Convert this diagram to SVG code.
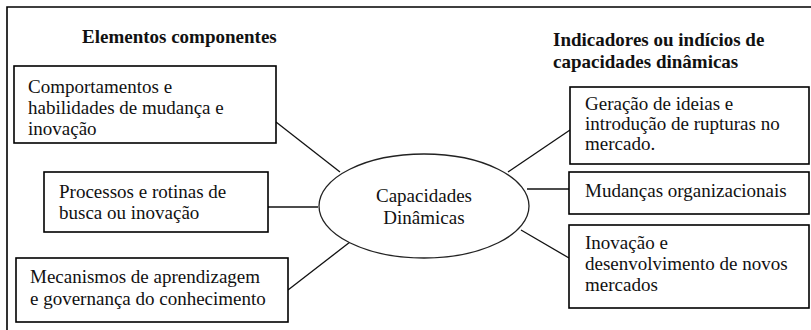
<svg xmlns="http://www.w3.org/2000/svg" width="811" height="330" viewBox="0 0 811 330">
  <style>
    .box { fill: #fff; stroke: #000; stroke-width: 1.6; }
    .ell { fill: #fff; stroke: #222; stroke-width: 1.3; }
    .link { stroke: #111; stroke-width: 1.3; fill: none; }
    .frame { stroke: #000; stroke-width: 1.6; fill: none; }
    text { font-family: "Liberation Serif", "Times New Roman", serif; font-size: 19px; fill: #111; }
    .head { font-weight: bold; }
    .mid { text-anchor: middle; }
  </style>
  <rect width="811" height="330" fill="#fff"/>
  <path class="frame" d="M7,330 V7 H811"/>

  <!-- column headings -->
  <text class="head" x="82" y="43">Elementos componentes</text>
  <text class="head" x="553" y="46">Indicadores ou indícios de</text>
  <text class="head" x="553" y="68">capacidades dinâmicas</text>

  <!-- connectors -->
  <g id="connectors">
    <line class="link" x1="276" y1="122" x2="340" y2="172"/>
    <line class="link" x1="268" y1="207" x2="318" y2="207"/>
    <line class="link" x1="288" y1="290" x2="350" y2="242"/>
    <line class="link" x1="508" y1="172" x2="570" y2="130"/>
    <line class="link" x1="527" y1="189" x2="569" y2="189"/>
    <line class="link" x1="521" y1="230" x2="569" y2="258"/>
  </g>

  <g id="center">
    <ellipse class="ell" cx="424" cy="206" rx="105" ry="52"/>
    <text class="mid" x="424" y="202">Capacidades</text>
    <text class="mid" x="424" y="224">Dinâmicas</text>
  </g>

  <g id="comportamentos">
    <rect class="box" x="14" y="66" width="262" height="77"/>
    <text x="28" y="93">Comportamentos e</text>
    <text x="28" y="114">habilidades de mudança e</text>
    <text x="28" y="135">inovação</text>
  </g>

  <g id="processos">
    <rect class="box" x="44" y="172" width="224" height="60"/>
    <text x="59" y="198">Processos e rotinas de</text>
    <text x="59" y="219">busca ou inovação</text>
  </g>

  <g id="mecanismos">
    <rect class="box" x="16" y="258" width="272" height="64"/>
    <text x="30" y="283">Mecanismos de aprendizagem</text>
    <text x="30" y="305">e governança do conhecimento</text>
  </g>

  <g id="geracao">
    <rect class="box" x="570" y="87" width="239" height="77"/>
    <text x="585" y="110">Geração de ideias e</text>
    <text x="585" y="130">introdução de rupturas no</text>
    <text x="585" y="150">mercado.</text>
  </g>

  <g id="mudancas">
    <rect class="box" x="569" y="172" width="240" height="42"/>
    <text x="585" y="197">Mudanças organizacionais</text>
  </g>

  <g id="inovacao">
    <rect class="box" x="569" y="225" width="240" height="83"/>
    <text x="585" y="249">Inovação e</text>
    <text x="585" y="270">desenvolvimento de novos</text>
    <text x="585" y="291">mercados</text>
  </g>
</svg>
